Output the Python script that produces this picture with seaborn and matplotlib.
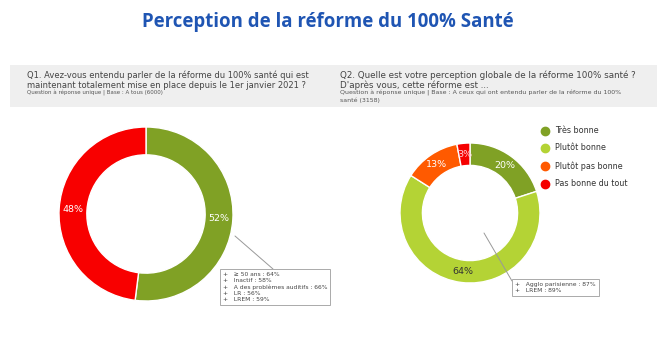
import matplotlib
matplotlib.use("Agg")
import matplotlib.pyplot as plt
import seaborn as sns
from matplotlib.patches import Rectangle
from matplotlib.lines import Line2D

# ---- data ----
title = "Perception de la réforme du 100% Santé"

q1_title = "Q1. Avez-vous entendu parler de la réforme du 100% santé qui est\nmaintenant totalement mise en place depuis le 1er janvier 2021 ?"
q1_sub = "Question à réponse unique | Base : A tous (6000)"
q1_labels = ["Oui", "Non"]
q1_values = [52, 48]
q1_colors = ["#80A125", "#F80000"]
q1_text_colors = ["white", "white"]
q1_note = ["≥ 50 ans : 64%", "Inactif : 58%", "A des problèmes auditifs : 66%", "LR : 56%", "LREM : 59%"]

q2_title = "Q2. Quelle est votre perception globale de la réforme 100% santé ?\nD'après vous, cette réforme est ..."
q2_sub = "Question à réponse unique | Base : A ceux qui ont entendu parler de la réforme du 100%\nsanté (3158)"
q2_labels = ["Très bonne", "Plutôt bonne", "Plutôt pas bonne", "Pas bonne du tout"]
q2_values = [20, 64, 13, 3]
q2_colors = ["#80A125", "#B4D335", "#FF5A00", "#F50000"]
q2_text_colors = ["white", "#333333", "white", "#FFD0D8"]
q2_note = ["Agglo parisienne : 87%", "LREM : 89%"]

# ---- figure ----
sns.set_theme(style="white")
plt.rcParams["font.family"] = ["DejaVu Sans"]

W, H = 657, 345
fig = plt.figure(figsize=(W / 100, H / 100), dpi=100)
fig.patch.set_facecolor("white")


def fx(x):
    return x / W


def fy(y):
    return 1 - y / H


# title
fig.text(fx(328), fy(22), title, ha="center", va="center", fontsize=13.4,
         fontweight="bold", color="#1F55B3", family=["Open Sans", "DejaVu Sans"])

# grey header band
fig.add_artist(Rectangle((fx(10), fy(107)), fx(647), (107 - 65) / H,
                         transform=fig.transFigure, facecolor="#EFEFEF",
                         edgecolor="none", zorder=0))

fig.text(fx(27), fy(80), q1_title, ha="left", va="center", fontsize=6.05,
         color="#444444", linespacing=1.1)
fig.text(fx(27), fy(92.5), q1_sub, ha="left", va="center", fontsize=4.0,
         color="#555555")
fig.text(fx(340), fy(80), q2_title, ha="left", va="center", fontsize=6.3,
         color="#444444", linespacing=1.05)
fig.text(fx(340), fy(96.5), q2_sub, ha="left", va="center", fontsize=4.5,
         color="#555555", linespacing=1.15)


def donut(cx, cy, r, values, colors, tcolors, fs):
    ax = fig.add_axes([fx(cx - r), fy(cy + r), 2 * r / W, 2 * r / H])
    labs = [f"{v}%" for v in values]
    wedges, texts = ax.pie(values, colors=colors, startangle=90, counterclock=False,
                           labels=labs, labeldistance=0.84, radius=1,
                           wedgeprops=dict(width=0.32, edgecolor="white", linewidth=1.0),
                           textprops=dict(fontsize=fs, ha="center", va="center"))
    for t, c in zip(texts, tcolors):
        t.set_color(c)
        t.set_ha("center")
        t.set_va("center")
    ax.set_xlim(-1, 1)
    ax.set_ylim(-1, 1)
    ax.axis("off")
    return ax


donut(146, 214, 87, q1_values, q1_colors, q1_text_colors, 6.8)
donut(470, 213, 70, q2_values, q2_colors, q2_text_colors, 6.8)

# legend for Q2
leg_y = [131, 148, 166, 184]
for lab, col, y in zip(q2_labels, q2_colors, leg_y):
    fig.add_artist(Line2D([fx(545)], [fy(y)], marker="o", markersize=6,
                          color=col, linestyle="none", transform=fig.transFigure))
    fig.text(fx(555), fy(y), lab, ha="left", va="center", fontsize=5.8, color="#333333")


def note(x0, y0, lines, lx0, ly0, lx1, ly1):
    fig.add_artist(Line2D([fx(lx0), fx(lx1)], [fy(ly0), fy(ly1)], color="#999999",
                          linewidth=0.7, transform=fig.transFigure))
    txt = "\n".join("+   " + s for s in lines)
    fig.text(fx(x0), fy(y0), txt, ha="left", va="top", fontsize=4.3,
             color="#444444", linespacing=1.25,
             bbox=dict(boxstyle="square,pad=0.5", facecolor="white",
                       edgecolor="#AAAAAA", linewidth=0.7))


note(223, 272, q1_note, 235, 236, 273, 269)
note(515, 282, q2_note, 484, 233, 512, 281)

fig.savefig("out.png", dpi=100)
